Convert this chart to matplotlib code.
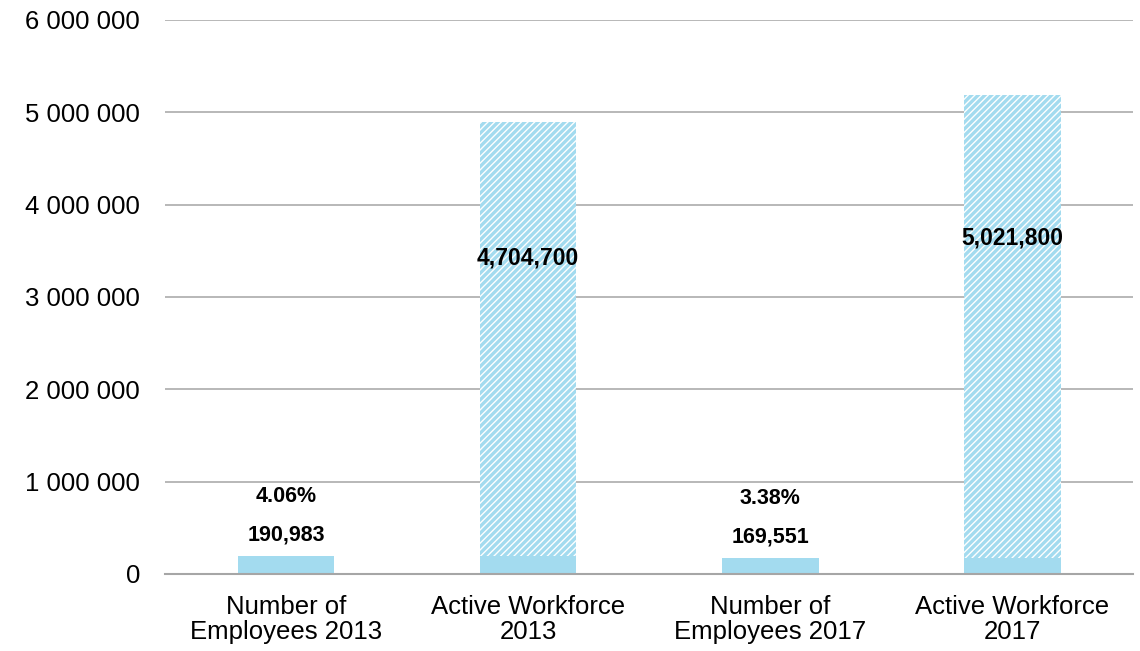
import matplotlib.pyplot as plt
import matplotlib as mpl
import numpy as np
mpl.use('Agg')

## Data
categories = ["Number of\nEmployees 2013", "Active Workforce\n2013",
              "Number of\nEmployees 2017", "Active Workforce\n2017"]
employees = [190983, 190983, 169551, 169551]
workforce = [0, 4704700, 0, 5021800]
shares = ["4.06%", None, "3.38%", None]
yticks = [0, 1000000, 2000000, 3000000, 4000000, 5000000, 6000000]
ytick_labels = ["0", "1 000 000", "2 000 000", "3 000 000",
                "4 000 000", "5 000 000", "6 000 000"]

blue = '#A3DBEF'
plt.rcParams['font.family'] = ['Liberation Sans', 'DejaVu Sans']
plt.rcParams['hatch.linewidth'] = 2.4
plt.rcParams['hatch.color'] = blue

fig = plt.figure(figsize=(11.4, 6.51), dpi=100, facecolor='w')
ax = fig.add_axes([0.1447, 0.1183, 0.8494, 0.851])

x = np.arange(len(categories))
ax.bar(x, employees, width=0.4, color=blue, zorder=3)
ax.bar(x, workforce, width=0.4, bottom=employees, facecolor='white',
       edgecolor=blue, hatch='/////', linewidth=0, zorder=3)

## Labels
for i in range(len(categories)):
    if workforce[i] > 0:
        total = employees[i] + workforce[i]
        ax.text(x[i], total * 0.70, f"{workforce[i]:,}", ha='center', va='center',
                fontsize=16.5, fontweight='bold', zorder=4)
    else:
        ax.text(x[i], employees[i] + 230000, f"{employees[i]:,}", ha='center',
                va='center', fontsize=15.5, fontweight='bold', zorder=4)
        ax.text(x[i], employees[i] + 650000, shares[i], ha='center',
                va='center', fontsize=15.5, fontweight='bold', zorder=4)

ax.set_xlim(-0.5, len(categories) - 0.5)
ax.set_ylim(0, 6000000)
ax.set_yticks(yticks)
ax.set_yticklabels(ytick_labels, fontsize=18.5)
ax.set_xticks(x)
ax.set_xticklabels(categories, fontsize=18.5, linespacing=1.08)
ax.tick_params(axis='both', length=0)
ax.tick_params(axis='y', pad=18)
ax.tick_params(axis='x', pad=15)

ax.grid(axis='y', color='#ABABAB', linewidth=1.2, zorder=0)
for s in ['top', 'right', 'left']:
    ax.spines[s].set_visible(False)
ax.spines['bottom'].set_color('#A6A6A6')
ax.spines['bottom'].set_linewidth(1.5)
ax.spines['bottom'].set_zorder(5)

plt.savefig("out.png", dpi=100)
